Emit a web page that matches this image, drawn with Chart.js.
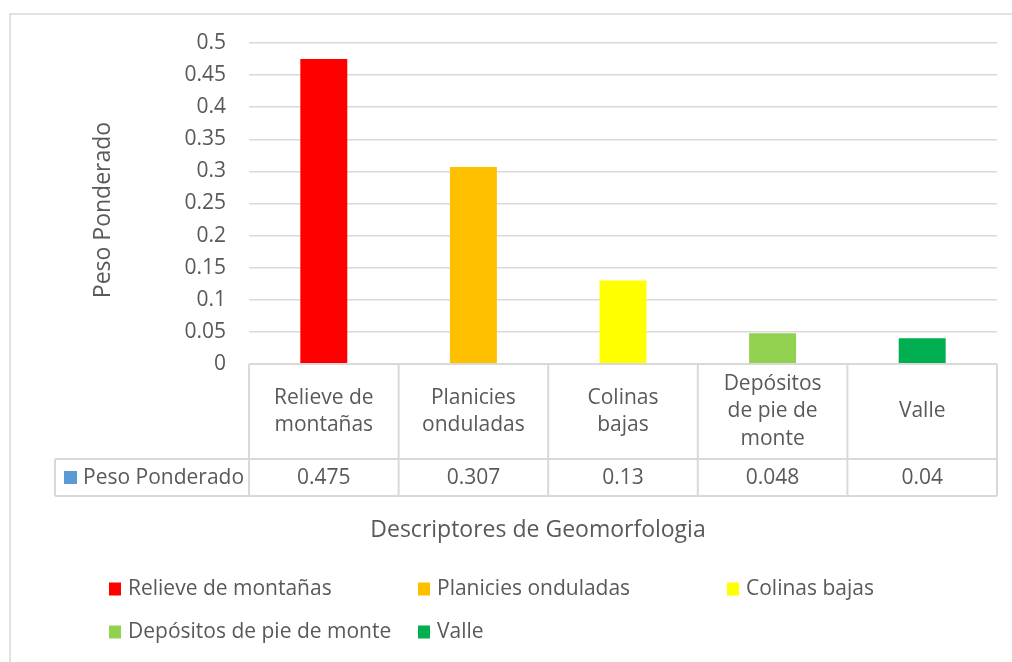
<!DOCTYPE html>
<html>
<head>
<meta charset="utf-8">
<script src="https://cdn.jsdelivr.net/npm/chart.js@4"></script>
<style>
  body { margin: 0; background: #fff; }
  #contenedor { width: 1012px; height: 662px; }
</style>
</head>
<body>
<div id="contenedor"><canvas id="myChart" width="1012" height="662"></canvas></div>
<script>
const categorias = ['Relieve de montañas', 'Planicies onduladas', 'Colinas bajas', 'Depósitos de pie de monte', 'Valle'];
// etiquetas partidas en lineas como en la tabla de datos
const etiquetasTabla = [['Relieve de', 'montañas'], ['Planicies', 'onduladas'], ['Colinas', 'bajas'], ['Depósitos', 'de pie de', 'monte'], ['Valle']];
const pesos = [0.475, 0.307, 0.13, 0.048, 0.04];
const colores = ['#ff0000', '#ffc000', '#ffff00', '#92d050', '#00b050'];
const nombreSerie = 'Peso Ponderado';
const tituloX = 'Descriptores de Geomorfologia';
const tituloY = 'Peso Ponderado';

const fuente = "'Open Sans', sans-serif";
const gris = '#595959';
const lineaGris = '#d9d9d9';

const tablaDatos = {
  id: 'tablaDatos',
  afterDraw(chart) {
    const ctx = chart.ctx;
    const area = chart.chartArea;
    const x = chart.scales.x;
    const yTop = area.bottom;
    const yMid = 459;
    const yBot = 496;
    const anchoCat = (area.right - area.left) / categorias.length;

    ctx.save();
    // borde exterior
    ctx.strokeStyle = lineaGris;
    ctx.lineWidth = 1.5;
    ctx.strokeRect(10, 14, 1020, 670);

    // lineas de la tabla
    ctx.lineWidth = 2;
    ctx.beginPath();
    ctx.moveTo(area.left, yTop); ctx.lineTo(area.right, yTop);
    ctx.moveTo(55, yMid); ctx.lineTo(area.right, yMid);
    ctx.moveTo(55, yBot); ctx.lineTo(area.right, yBot);
    ctx.moveTo(55, yMid); ctx.lineTo(55, yBot);
    for (let i = 0; i <= categorias.length; i++) {
      const xl = area.left + i * anchoCat;
      ctx.moveTo(xl, yTop); ctx.lineTo(xl, yBot);
    }
    ctx.stroke();

    ctx.fillStyle = gris;
    ctx.font = '21px ' + fuente;
    ctx.textAlign = 'center';
    ctx.textBaseline = 'middle';
    etiquetasTabla.forEach((lineas, i) => {
      const cx = x.getPixelForValue(i);
      const cy = (yTop + yMid) / 2;
      const lh = 27.5;
      lineas.forEach((l, j) => {
        ctx.fillText(l, cx, cy + (j - (lineas.length - 1) / 2) * lh);
      });
      ctx.fillText(String(pesos[i]), cx, (yMid + yBot) / 2 + 1);
    });

    // clave de la serie en la tabla
    ctx.fillStyle = '#5b9bd5';
    ctx.fillRect(64, 471, 13, 13);
    ctx.fillStyle = gris;
    ctx.textAlign = 'left';
    ctx.fillText(nombreSerie, 83, (yMid + yBot) / 2 + 1);

    // titulos de ejes
    ctx.font = '23px ' + fuente;
    ctx.textAlign = 'center';
    ctx.fillText(tituloX, 538, 530);
    ctx.save();
    ctx.translate(103, 210);
    ctx.rotate(-Math.PI / 2);
    ctx.fillText(tituloY, 0, 0);
    ctx.restore();

    // leyenda
    ctx.font = '21px ' + fuente;
    const colX = [109, 418, 727];
    const filaY = [589, 632];
    ctx.textAlign = 'left';
    categorias.forEach((c, i) => {
      const lx = colX[i % 3];
      const ly = filaY[Math.floor(i / 3)];
      ctx.fillStyle = colores[i];
      ctx.fillRect(lx, ly - 6.5, 12, 13);
      ctx.fillStyle = gris;
      ctx.fillText(c, lx + 19, ly);
    });
    ctx.restore();
  }
};

const ctx = document.getElementById('myChart').getContext('2d');
new Chart(ctx, {
  type: 'bar',
  data: {
    labels: categorias,
    datasets: [{
      label: nombreSerie,
      data: pesos,
      backgroundColor: colores,
      borderWidth: 0,
      barPercentage: 0.314,
      categoryPercentage: 1
    }]
  },
  options: {
    responsive: false,
    animation: false,
    layout: { padding: { left: 0, top: 43, right: 15, bottom: 298 } },
    plugins: { legend: { display: false }, tooltip: { enabled: false } },
    scales: {
      x: { display: false },
      y: {
        min: 0,
        max: 0.5,
        afterFit: scale => { scale.width = 249; },
        border: { display: false },
        grid: { color: lineaGris, lineWidth: 1.5, drawTicks: false },
        ticks: {
          stepSize: 0.05,
          padding: 23,
          color: gris,
          font: { family: fuente, size: 21 },
          callback: v => String(Math.round(v * 100) / 100)
        }
      }
    }
  },
  plugins: [tablaDatos]
});
</script>
</body>
</html>
